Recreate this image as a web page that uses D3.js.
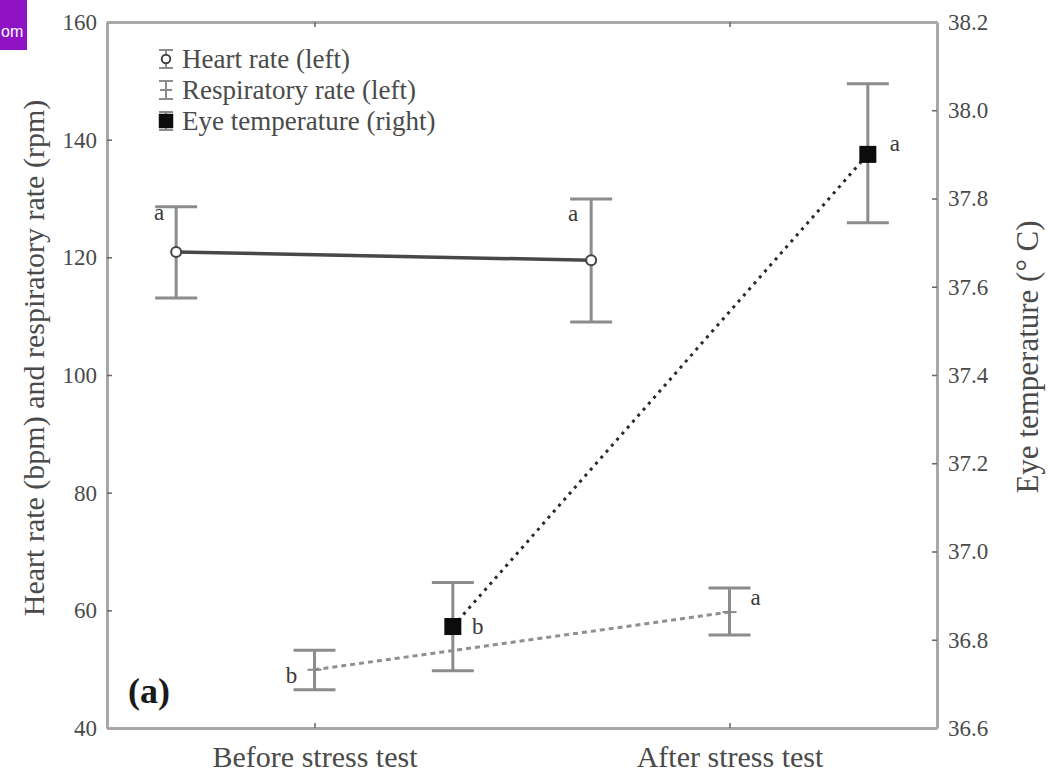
<!DOCTYPE html>
<html>
<head>
<meta charset="utf-8">
<script src="https://cdn.jsdelivr.net/npm/d3@7"></script>
<style>
  html, body { margin: 0; padding: 0; background: #fff; }
  svg { display: block; }
  svg text { font-family: 'Liberation Serif', 'Times New Roman', serif; }
</style>
</head>
<body>
<svg id="chart" width="1048" height="772"></svg>
<script>
// ---- data ----
const categories = ["Before stress test", "After stress test"];
const seriesNames = ["Heart rate (left)", "Respiratory rate (left)", "Eye temperature (right)"];

const heartRateMean = [120.9, 119.5];
const heartRateLow  = [113.1, 109.0];
const heartRateHigh = [128.6, 129.9];
const heartRateLetters = ["a", "a"];

const respRateMean = [49.9, 59.7];
const respRateLow  = [46.5, 55.8];
const respRateHigh = [53.2, 63.8];
const respRateLetters = ["b", "a"];

const eyeTempMean = [36.83, 37.90];
const eyeTempLow  = [36.73, 37.745];
const eyeTempHigh = [36.93, 38.06];
const eyeTempLetters = ["b", "a"];

const leftTicks  = [40, 60, 80, 100, 120, 140, 160];
const rightTicks = [36.6, 36.8, 37.0, 37.2, 37.4, 37.6, 37.8, 38.0, 38.2];

// ---- layout ----
const serif = "'Liberation Serif', 'Times New Roman', serif";
const svg = d3.select("#chart");
const plot = { left: 107, right: 937, top: 22, bottom: 728 };

const x = d3.scalePoint().domain(categories).range([plot.left, plot.right]).padding(0.5);
const offset = d3.scalePoint().domain(seriesNames).range([-x.step() / 3, x.step() / 3]);
const yLeft = d3.scaleLinear().domain([40, 160]).range([plot.bottom, plot.top]);
const yRight = d3.scaleLinear().domain([36.6, 38.2]).range([plot.bottom, plot.top]);

const axisColor = "#a8a8a8";
const textColor = "#4a4a4a";
const barColor = "#8c8c8c";

// small watermark fragment in the corner
svg.append("rect").attr("x", 0).attr("y", 0).attr("width", 27).attr("height", 50).attr("fill", "#8e12c4");
svg.append("text").attr("x", 1).attr("y", 37).attr("fill", "#fff")
  .style("font-family", "'Liberation Sans', Arial, sans-serif").style("font-size", "16px").text("om");

// ---- axes ----
function styleAxis(g, size) {
  g.attr("font-family", null);
  g.select(".domain").attr("stroke", axisColor).attr("stroke-width", 3);
  g.selectAll(".tick line").attr("stroke", "#666").attr("stroke-width", 1.5);
  g.selectAll(".tick text").attr("fill", textColor)
    .style("font-family", serif).style("font-size", size + "px");
}

svg.append("g").attr("transform", `translate(${plot.left},0)`)
  .call(d3.axisLeft(yLeft).tickValues(leftTicks).tickSizeInner(-5).tickSizeOuter(0).tickPadding(10))
  .call(styleAxis, 23);

svg.append("g").attr("transform", `translate(${plot.right},0)`)
  .call(d3.axisRight(yRight).tickValues(rightTicks).tickFormat(d3.format(".1f")).tickSizeInner(-5).tickSizeOuter(0).tickPadding(11))
  .call(styleAxis, 23);

svg.append("g").attr("transform", `translate(0,${plot.bottom})`)
  .call(d3.axisBottom(x).tickSizeInner(-5).tickSizeOuter(0).tickPadding(18))
  .call(styleAxis, 30);

svg.append("g").attr("transform", `translate(0,${plot.top})`)
  .call(d3.axisTop(x).tickSizeInner(-5).tickSizeOuter(0).tickFormat(""))
  .call(styleAxis, 23);

// axis titles
svg.append("text")
  .attr("transform", "translate(33,358) rotate(-90)")
  .attr("text-anchor", "middle").attr("dominant-baseline", "central")
  .attr("fill", textColor).style("font-family", serif).style("font-size", "30px")
  .text("Heart rate (bpm) and respiratory rate (rpm)");

svg.append("text")
  .attr("transform", "translate(1027,357) rotate(-90)")
  .attr("text-anchor", "middle").attr("dominant-baseline", "central")
  .attr("fill", textColor).style("font-family", serif).style("font-size", "31px")
  .text("Eye temperature (° C)");

// ---- series ----
function rows(mean, low, high, letters) {
  return categories.map((c, i) => ({ cat: c, mean: mean[i], low: low[i], high: high[i], letter: letters[i] }));
}
const series = [
  { name: seriesNames[0], y: yLeft, data: rows(heartRateMean, heartRateLow, heartRateHigh, heartRateLetters),
    line: { stroke: "#484848", width: 3.5, dash: null } },
  { name: seriesNames[1], y: yLeft, data: rows(respRateMean, respRateLow, respRateHigh, respRateLetters),
    line: { stroke: "#8f8f8f", width: 3, dash: "5,4" } },
  { name: seriesNames[2], y: yRight, data: rows(eyeTempMean, eyeTempLow, eyeTempHigh, eyeTempLetters),
    line: { stroke: "#2a2a2a", width: 3, dash: "3,5" } }
];

const px = (s, d) => x(d.cat) + offset(s.name);
const capHalf = 21;

// connecting lines
series.forEach(s => {
  svg.append("path")
    .datum(s.data)
    .attr("fill", "none")
    .attr("stroke", s.line.stroke)
    .attr("stroke-width", s.line.width)
    .attr("stroke-dasharray", s.line.dash)
    .attr("d", d3.line().x(d => px(s, d)).y(d => s.y(d.mean)));
});

// error bars
series.forEach(s => {
  const g = svg.append("g").attr("stroke", barColor).attr("stroke-width", 3);
  s.data.forEach(d => {
    const cx = px(s, d);
    g.append("line").attr("x1", cx).attr("x2", cx).attr("y1", s.y(d.low)).attr("y2", s.y(d.high));
    g.append("line").attr("x1", cx - capHalf).attr("x2", cx + capHalf).attr("y1", s.y(d.low)).attr("y2", s.y(d.low));
    g.append("line").attr("x1", cx - capHalf).attr("x2", cx + capHalf).attr("y1", s.y(d.high)).attr("y2", s.y(d.high));
  });
});

// markers
function drawMarker(g, kind, cx, cy, scale) {
  if (kind === 0) {
    g.append("circle").attr("cx", cx).attr("cy", cy).attr("r", 5 * scale)
      .attr("fill", "#fff").attr("stroke", "#444").attr("stroke-width", 2);
  } else if (kind === 1) {
    const h = 7 * scale;
    g.append("line").attr("x1", cx - h).attr("x2", cx + h).attr("y1", cy).attr("y2", cy)
      .attr("stroke", "#8a8a8a").attr("stroke-width", 2);
    g.append("line").attr("x1", cx).attr("x2", cx).attr("y1", cy - h).attr("y2", cy + h)
      .attr("stroke", "#8a8a8a").attr("stroke-width", 2);
  } else {
    const h = 8.5 * scale;
    g.append("rect").attr("x", cx - h).attr("y", cy - h).attr("width", 2 * h).attr("height", 2 * h)
      .attr("fill", "#0c0c0c");
  }
}
series.forEach((s, k) => {
  const g = svg.append("g");
  s.data.forEach(d => drawMarker(g, k, px(s, d), s.y(d.mean), 1));
});

// significance letters: where each letter sits relative to its point
const letterPlacement = [
  [{ ref: "high", dx: -17, dy: 6 }, { ref: "high", dx: -18, dy: 14 }],
  [{ ref: "mean", dx: -23, dy: 6 }, { ref: "high", dx: 26, dy: 10 }],
  [{ ref: "mean", dx: 25, dy: 0 }, { ref: "mean", dx: 27, dy: -11 }]
];
series.forEach((s, k) => {
  s.data.forEach((d, i) => {
    const p = letterPlacement[k][i];
    svg.append("text")
      .attr("x", px(s, d) + p.dx)
      .attr("y", s.y(d[p.ref]) + p.dy)
      .attr("text-anchor", "middle").attr("dominant-baseline", "central")
      .attr("fill", "#3a3a3a").style("font-family", serif).style("font-size", "23px")
      .text(d.letter);
  });
});

// panel label
svg.append("text").attr("x", 128).attr("y", 703)
  .attr("fill", "#1a1a1a").style("font-family", serif).style("font-size", "36px").style("font-weight", "bold")
  .text("(a)");

// ---- legend ----
const legend = svg.append("g").attr("transform", "translate(166,59)");
seriesNames.forEach((name, k) => {
  const g = legend.append("g").attr("transform", `translate(0,${k * 31})`);
  const bar = g.append("g").attr("stroke", barColor).attr("stroke-width", 2);
  bar.append("line").attr("x1", 0).attr("x2", 0).attr("y1", -9).attr("y2", 9);
  bar.append("line").attr("x1", -7).attr("x2", 7).attr("y1", -9).attr("y2", -9);
  bar.append("line").attr("x1", -7).attr("x2", 7).attr("y1", 9).attr("y2", 9);
  drawMarker(g, k, 0, 0, 0.85);
  g.append("text").attr("x", 16).attr("y", 0)
    .attr("dominant-baseline", "central")
    .attr("fill", textColor).style("font-family", serif).style("font-size", "27px")
    .text(name);
});
</script>
</body>
</html>
